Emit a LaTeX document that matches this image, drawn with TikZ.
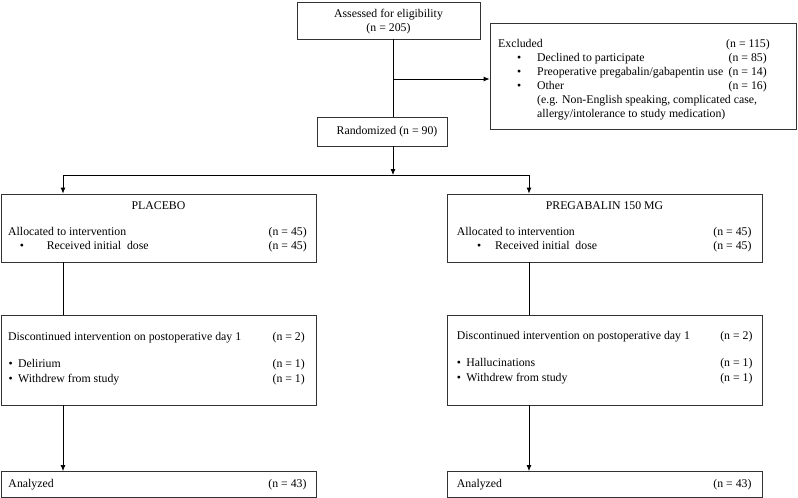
\documentclass[tikz,border=0pt]{standalone}
\usepackage{fontspec}
\setmainfont{Liberation Serif}
\usetikzlibrary{arrows.meta,calc}
\tikzset{>={Latex[length=6pt,width=5pt]}}
\tikzset{box/.style = {draw=black!80, line width=0.8pt, inner sep=0pt},
		txt/.style = {anchor=base west, inner sep=0pt},
		cnt/.style = {anchor=base east, inner sep=0pt},
		ctr/.style = {anchor=base, inner sep=0pt},
		flow/.style = {line width=0.8pt}}
\newcommand{\blt}[1]{\makebox[#1][l]{\textbullet}}

\begin{document}
\begin{tikzpicture}[x=1pt,y=-1pt,font=\fontsize{11.8}{14}\selectfont]
    \useasboundingbox (0,0) rectangle (798,498);
    % boxes
    \node[box, minimum width=183, minimum height=37] (assess) at (388.5,20.5) {};
    \node[box, minimum width=306, minimum height=106] (excl) at (643,76) {};
    \node[box, minimum width=130, minimum height=29] (rand) at (382,131.5) {};
    \node[box, minimum width=315, minimum height=68] (plc) at (158.5,228) {};
    \node[box, minimum width=315, minimum height=68] (pgb) at (604.5,228) {};
    \node[box, minimum width=315, minimum height=89.5] (plcdisc) at (158.5,360.25) {};
    \node[box, minimum width=315, minimum height=89.5] (pgbdisc) at (604.5,360.25) {};
    \node[box, minimum width=315, minimum height=25.5] (plcana) at (158.5,484.25) {};
    \node[box, minimum width=315, minimum height=25.5] (pgbana) at (604.5,484.25) {};
    % enrolment
    \node[ctr] (asst) at (388.5,17) {Assessed for eligibility};
    \node[ctr] (assn) at (388.5,31) {(n = 205)};
    \node[txt] (exclt) at (498,47) {Excluded};
    \node[cnt] (excln) at (770,47) {(n = 115)};
    \node[txt] (declt) at (517,61) {\blt{20pt}Declined to participate};
    \node[cnt] (decln) at (767,61) {(n = 85)};
    \node[txt] (preopt) at (517,75) {\blt{20pt}Preoperative pregabalin/gabapentin use};
    \node[cnt] (preopn) at (767,75) {(n = 14)};
    \node[txt] (othert) at (517,89) {\blt{20pt}Other};
    \node[cnt] (othern) at (767,89) {(n = 16)};
    \node[txt] (eg1) at (537,103) {(e.g. Non-English speaking, complicated case,};
    \node[txt] (eg2) at (537,117) {allergy/intolerance to study medication)};
    \node[ctr] (randt) at (387,134) {Randomized (n = 90)};
    % allocation
    \node[ctr] (plct) at (158.5,209.5) {PLACEBO};
    \node[txt] (plcal) at (8,235) {Allocated to intervention};
    \node[cnt] (plcaln) at (307,235) {(n = 45)};
    \node[txt] (plcrc) at (19.6,249.5) {\blt{27pt}Received initial\ \ dose};
    \node[cnt] (plcrcn) at (307,249.5) {(n = 45)};
    \node[ctr] (pgbt) at (604.5,209.5) {PREGABALIN 150 MG};
    \node[txt] (pgbal) at (456.7,235) {Allocated to intervention};
    \node[cnt] (pgbaln) at (751.7,235) {(n = 45)};
    \node[txt] (pgbrc) at (477,249.5) {\blt{18pt}Received initial\ \ dose};
    \node[cnt] (pgbrcn) at (751.7,249.5) {(n = 45)};
    % follow-up
    \node[txt] (plcdt) at (8,340) {Discontinued intervention on postoperative day 1};
    \node[cnt] (plcdn) at (305,340) {(n = 2)};
    \node[txt] (plcdel) at (8.5,367.5) {\blt{9.5pt}Delirium};
    \node[cnt] (plcdeln) at (305,367.5) {(n = 1)};
    \node[txt] (plcwd) at (8.5,382.5) {\blt{9.5pt}Withdrew from study};
    \node[cnt] (plcwdn) at (305,382.5) {(n = 1)};
    \node[txt] (pgbdt) at (456.7,339) {Discontinued intervention on postoperative day 1};
    \node[cnt] (pgbdn) at (752.7,339) {(n = 2)};
    \node[txt] (pgbhal) at (456.7,366) {\blt{9.5pt}Hallucinations};
    \node[cnt] (pgbhaln) at (752.7,366) {(n = 1)};
    \node[txt] (pgbwd) at (456.7,381.5) {\blt{9.5pt}Withdrew from study};
    \node[cnt] (pgbwdn) at (752.7,381.5) {(n = 1)};
    % analysis
    \node[txt] (plcant) at (8.3,487) {Analyzed};
    \node[cnt] (plcann) at (306.7,487) {(n = 43)};
    \node[txt] (pgbant) at (456.7,487) {Analyzed};
    \node[cnt] (pgbann) at (751.7,487) {(n = 43)};
    % connectors
    \coordinate (spine) at (393,79);
    \coordinate (split) at (393,175);
    \coordinate (lft) at (63,175);
    \coordinate (rgt) at (529,175);
    \draw[flow] (spine |- assess.south) -- (spine |- rand.north);
    \draw[flow,->] (spine) -- (spine -| excl.west);
    \draw[flow,->] (spine |- rand.south) -- (split);
    \draw[flow] (lft) -- (rgt);
    \draw[flow,->] (lft) -- (lft |- plc.north);
    \draw[flow,->] (rgt) -- (rgt |- pgb.north);
    \draw[flow] (lft |- plc.south) -- (lft |- plcdisc.north);
    \draw[flow] (rgt |- pgb.south) -- (rgt |- pgbdisc.north);
    \draw[flow,->] (lft |- plcdisc.south) -- (lft |- plcana.north);
    \draw[flow,->] (rgt |- pgbdisc.south) -- (rgt |- pgbana.north);
\end{tikzpicture}
\end{document}
